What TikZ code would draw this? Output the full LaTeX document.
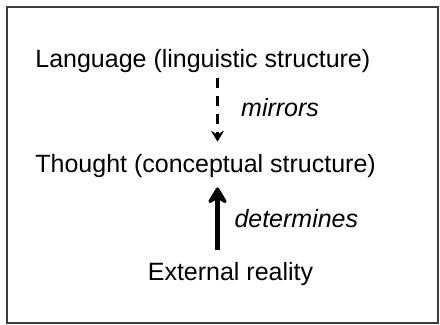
\documentclass[tikz,border=0pt]{standalone}
\usepackage{fontspec}
\setmainfont{Liberation Sans}
\usepackage{tikz}
\usetikzlibrary{arrows.meta, positioning}
\definecolor{framegray}{RGB}{60, 60, 60}

\begin{document}
\begin{tikzpicture}[x=1pt, y=1pt,
  every node/.style={font=\fontsize{12.5}{15}\selectfont, inner sep=2pt},
  mirrorarrow/.style={line width=1.2pt, dash pattern=on 5pt off 4pt,
    -{Stealth[length=5.5pt, width=6.5pt, inset=2pt]}},
  detarrow/.style={line width=2.5pt,
    -{Stealth[length=10pt, width=12pt, inset=3.5pt, round]}},
  edgelabel/.style={font=\fontsize{12.5}{15}\selectfont\itshape}]

% Frame round the whole picture
\useasboundingbox (0, 0) rectangle (220, -162.5);
\draw[framegray, line width=0.6pt] (3.5, -3.5) rectangle (219, -161.5);

% The three levels, top to bottom
\node[anchor=base west] (lang) at (15.5, -34) {Language (linguistic structure)};
\node[anchor=base west] (thought) at (15.5, -86.5) {Thought (conceptual structure)};
\node[anchor=base] (reality) at (115.25, -140.5) {External reality};

% Both arrows run on one vertical line
\coordinate (axis) at (108.75, 0);

\draw[mirrorarrow, shorten >=4.4pt] (lang.south -| axis) --
  node[right=9.25pt, yshift=3pt, edgelabel] (mirrors) {mirrors} (thought.north -| axis);

\draw[detarrow, shorten <=4pt, shorten >=2.4pt] (reality.north -| axis) --
  node[right=5.25pt, yshift=1pt, edgelabel] (determines) {determines} (thought.south -| axis);

\end{tikzpicture}
\end{document}
